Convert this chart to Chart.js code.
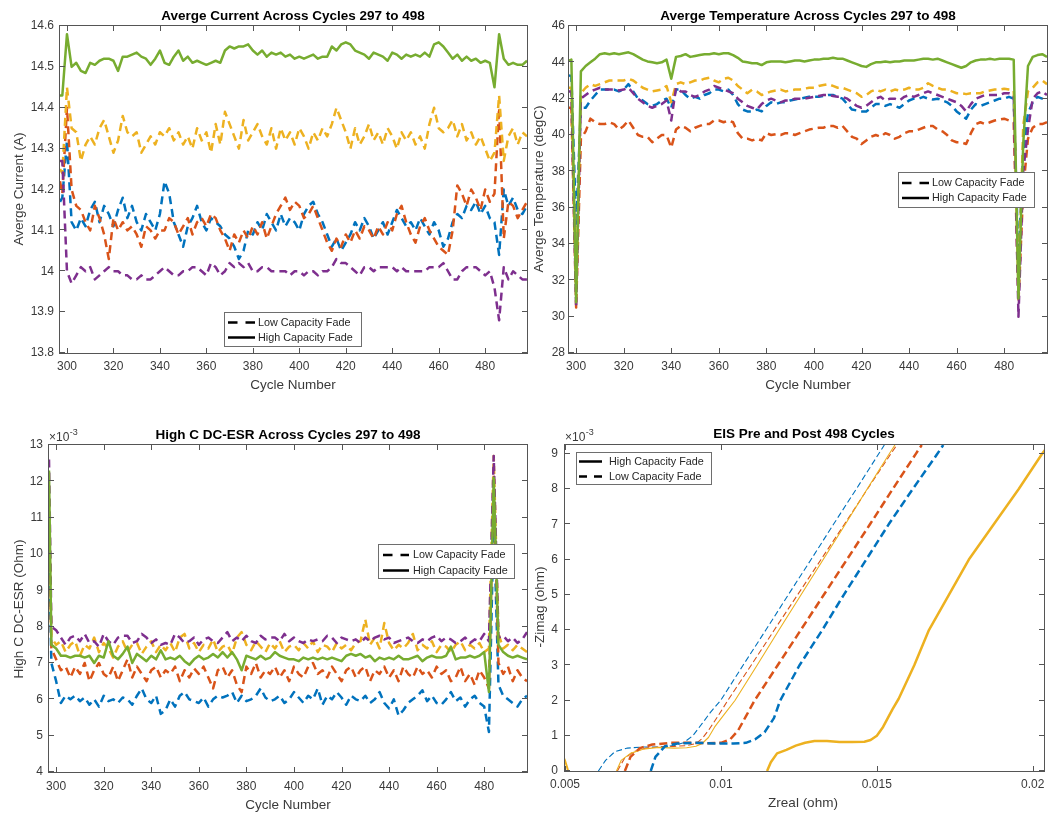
<!DOCTYPE html>
<html>
<head>
<meta charset="utf-8">
<title>Cycle summary</title>
<script src="https://cdn.jsdelivr.net/npm/chart.js@4.4.1/dist/chart.umd.min.js"></script>
<style>
html,body{margin:0;padding:0;background:#fff}
body{position:relative;width:1048px;height:814px;overflow:hidden}
canvas{position:absolute;display:block}
</style>
</head>
<body>
<canvas id="cCurrent"></canvas>
<canvas id="cTemp"></canvas>
<canvas id="cEsr"></canvas>
<canvas id="cEis"></canvas>
<script>
const FONT = '"Liberation Sans", Arial, Helvetica, sans-serif';
const COL = {blue:'#0072BD', orange:'#D95319', yellow:'#EDB120', purple:'#7E2F8E', green:'#77AC30'};

// ---- cycle axis ----
const cycles = [297,
  298,300,302,304,306,308,310,312,314,316,
  318,320,322,324,326,328,330,332,334,336,
  338,340,342,344,346,348,350,352,354,356,
  358,360,362,364,366,368,370,372,374,376,
  378,380,382,384,386,388,390,392,394,396,
  398,400,402,404,406,408,410,412,414,416,
  418,420,422,424,426,428,430,432,434,436,
  438,440,442,444,446,448,450,452,454,456,
  458,460,462,464,466,468,470,472,474,476,
  478,480,482,484,486,488,490,492,494,496,
  498];
const cycleTicks = [300,320,340,360,380,400,420,440,460,480];
const cycleTickLabels = ['300','320','340','360','380','400','420','440','460','480'];

// ---- average current (A) ----
const currentTicks = [13.8,13.9,14,14.1,14.2,14.3,14.4,14.5,14.6];
const currentTickLabels = ['13.8','13.9','14','14.1','14.2','14.3','14.4','14.5','14.6'];
const currentHighFade = [14.43,
  14.43,14.58,14.50,14.51,14.49,14.485,14.51,14.505,14.515,14.52,
  14.52,14.515,14.49,14.525,14.525,14.53,14.535,14.525,14.52,14.505,
  14.52,14.54,14.51,14.505,14.525,14.54,14.515,14.525,14.51,14.515,
  14.51,14.505,14.51,14.515,14.51,14.54,14.55,14.545,14.55,14.55,
  14.555,14.54,14.53,14.54,14.525,14.535,14.53,14.535,14.525,14.53,
  14.52,14.525,14.52,14.525,14.53,14.52,14.525,14.525,14.55,14.54,
  14.555,14.56,14.555,14.54,14.535,14.53,14.52,14.535,14.53,14.525,
  14.515,14.535,14.53,14.52,14.53,14.525,14.53,14.525,14.535,14.525,
  14.555,14.56,14.55,14.535,14.52,14.53,14.515,14.525,14.515,14.52,
  14.51,14.515,14.51,14.45,14.58,14.52,14.505,14.51,14.505,14.505,
  14.515];
const currentLowYellow = [14.25,
  14.24,14.45,14.35,14.34,14.27,14.31,14.33,14.31,14.35,14.37,
  14.33,14.29,14.32,14.38,14.34,14.33,14.34,14.29,14.31,14.33,
  14.31,14.34,14.33,14.35,14.32,14.34,14.31,14.33,14.30,14.35,
  14.32,14.34,14.29,14.36,14.31,14.39,14.36,14.33,14.30,14.37,
  14.32,14.34,14.36,14.33,14.31,14.35,14.30,14.35,14.32,14.34,
  14.31,14.35,14.33,14.30,14.34,14.32,14.35,14.33,14.36,14.40,
  14.37,14.34,14.30,14.35,14.31,14.33,14.36,14.32,14.34,14.31,
  14.35,14.33,14.30,14.34,14.32,14.34,14.31,14.33,14.30,14.36,
  14.40,14.35,14.34,14.35,14.37,14.33,14.36,14.32,14.34,14.31,
  14.33,14.30,14.27,14.29,14.43,14.27,14.33,14.35,14.31,14.34,
  14.33];
const currentLowOrange = [14.22,
  14.19,14.40,14.20,14.16,14.15,14.12,14.10,14.16,14.13,14.09,
  14.03,14.13,14.10,14.12,14.10,14.11,14.09,14.06,14.11,14.10,
  14.08,14.10,14.10,14.13,14.12,14.09,14.11,14.13,14.09,14.12,
  14.13,14.11,14.14,14.13,14.10,14.08,14.05,14.09,14.07,14.10,
  14.08,14.11,14.09,14.12,14.08,14.11,14.14,14.16,14.18,14.15,
  14.17,14.16,14.13,14.14,14.16,14.13,14.10,14.07,14.05,14.08,
  14.06,14.09,14.07,14.10,14.08,14.11,14.10,14.08,14.11,14.09,
  14.12,14.10,14.14,14.16,14.12,14.09,14.07,14.11,14.13,14.10,
  14.08,14.06,14.05,14.04,14.10,14.21,14.19,14.16,14.20,14.18,
  14.15,14.20,14.17,14.19,14.40,14.08,14.17,14.16,14.13,14.15,
  14.17];
const currentLowBlue = [14.17,
  14.18,14.32,14.12,14.10,14.13,14.11,14.15,14.17,14.12,14.16,
  14.14,14.11,14.15,14.18,14.13,14.16,14.12,14.10,14.14,14.12,
  14.10,14.14,14.22,14.19,14.12,14.09,14.06,14.11,14.13,14.16,
  14.12,14.10,14.13,14.12,14.11,14.09,14.08,14.06,14.03,14.05,
  14.10,14.09,14.12,14.10,14.14,14.12,14.10,14.14,14.11,14.13,
  14.12,14.10,14.14,14.16,14.17,14.14,14.12,14.09,14.06,14.08,
  14.05,14.07,14.09,14.12,14.10,14.13,14.11,14.08,14.10,14.12,
  14.09,14.12,14.15,14.13,14.11,14.12,14.10,14.13,14.11,14.09,
  14.12,14.10,14.06,14.08,14.12,14.14,14.13,14.16,14.15,14.17,
  14.14,14.16,14.13,14.12,14.04,14.20,14.16,14.18,14.15,14.14,
  14.16];
const currentLowPurple = [14.27,
  14.27,14.00,13.97,13.99,14.01,14.00,14.01,13.98,13.99,14.00,
  14.01,14.00,14.00,13.99,13.99,13.98,13.98,13.99,13.98,13.98,
  13.99,14.00,14.01,14.00,13.99,13.99,14.00,14.00,14.01,14.01,
  14.00,13.99,14.02,14.01,13.99,14.00,14.02,14.01,14.02,14.01,
  14.02,14.00,14.00,14.01,14.01,14.00,14.00,14.00,14.00,13.99,
  14.00,14.00,13.99,14.00,14.00,13.99,14.00,14.00,14.01,14.03,
  14.02,14.02,14.01,14.00,13.99,14.01,14.01,14.00,14.01,14.01,
  14.01,14.01,14.00,14.01,14.00,14.00,14.00,14.00,14.00,14.01,
  14.01,14.01,14.02,14.00,13.98,13.98,14.00,14.01,14.01,14.01,
  14.00,13.99,14.00,13.96,13.88,14.01,13.98,14.00,13.99,13.98,
  13.98];

// ---- average temperature (degC) ----
const tempTicks = [28,30,32,34,36,38,40,42,44,46];
const tempTickLabels = ['28','30','32','34','36','38','40','42','44','46'];
const tempHighFade = [44.1,
  44.15,30.8,43.5,43.8,44.0,44.2,44.45,44.5,44.45,44.5,
  44.45,44.5,44.55,44.45,44.3,44.15,44.05,44.0,43.95,44.0,
  44.15,43.1,44.3,44.35,44.45,44.3,44.35,44.4,44.45,44.45,
  44.5,44.45,44.5,44.5,44.4,44.25,44.05,44.0,43.95,43.95,
  43.85,44.0,44.05,44.05,44.05,44.0,44.05,44.1,44.1,44.05,
  44.1,44.15,44.15,44.2,44.2,44.25,44.2,44.2,44.1,44.0,
  43.9,43.8,43.75,43.9,44.0,44.0,44.05,44.0,44.05,44.05,
  44.1,44.1,44.1,44.15,44.2,44.2,44.15,44.2,44.1,44.0,
  43.9,43.8,43.7,43.8,44.0,44.1,44.15,44.15,44.2,44.15,
  44.2,44.2,44.2,44.15,31.0,39.5,43.8,44.3,44.4,44.45,
  44.3];
const tempLowYellow = [42.6,
  42.6,31.5,42.3,42.6,42.8,42.7,42.8,42.9,43.0,43.0,
  43.0,43.0,43.1,43.0,42.8,42.6,42.5,42.4,42.45,42.5,
  42.7,41.8,42.8,42.9,42.8,42.9,43.0,43.0,43.1,43.15,
  43.0,42.9,43.1,43.15,43.0,42.7,42.5,42.3,42.5,42.4,
  42.2,42.3,42.4,42.45,42.5,42.4,42.45,42.5,42.5,42.55,
  42.6,42.6,42.7,42.75,42.8,42.7,42.6,42.6,42.5,42.4,
  42.3,42.1,42.2,42.4,42.5,42.4,42.5,42.4,42.5,42.45,
  42.5,42.6,42.5,42.5,42.6,42.85,42.7,42.6,42.5,42.5,
  42.4,42.3,42.3,42.25,42.3,42.3,42.3,42.4,42.45,42.5,
  42.5,42.55,42.5,42.45,31.5,40.5,42.4,42.6,42.9,43.0,
  42.8];
const tempLowBlue = [43.3,
  43.2,35.0,41.5,41.5,41.9,42.2,42.5,42.5,42.5,42.5,
  42.4,42.5,42.8,42.4,42.0,41.9,41.7,41.6,41.7,41.9,
  42.0,41.5,42.5,42.5,42.2,42.0,42.1,42.0,42.2,42.3,
  42.5,42.5,42.4,42.5,42.2,41.7,41.4,41.3,41.3,41.4,
  41.3,41.6,41.8,41.7,41.8,41.8,41.9,41.95,42.0,42.05,
  42.1,42.1,42.1,42.15,42.2,42.2,42.1,42.0,41.7,41.4,
  41.35,41.3,41.3,41.5,41.7,41.7,41.6,41.7,41.6,41.5,
  41.7,41.9,42.0,42.0,42.1,42.0,41.95,42.0,41.9,41.8,
  41.6,41.3,41.1,40.9,41.4,41.7,41.6,41.7,41.8,41.9,
  42.0,42.0,42.1,42.0,33.0,39.0,41.2,41.8,42.1,42.0,
  41.9];
const tempLowPurple = [42.4,
  42.4,30.5,42.0,42.2,42.4,42.5,42.6,42.5,42.5,42.5,
  42.45,42.5,42.6,42.3,42.0,41.8,41.6,41.5,41.6,41.7,
  41.9,40.8,42.6,42.4,42.4,42.2,42.1,42.2,42.4,42.5,
  42.7,42.6,42.5,42.4,42.3,42.0,41.8,41.6,41.5,41.4,
  41.7,41.9,42.0,41.9,41.8,41.9,41.9,42.0,42.0,42.0,
  42.05,42.1,42.15,42.2,42.2,42.15,42.1,42.1,42.0,41.8,
  41.6,41.5,41.6,41.8,42.0,42.1,41.9,42.0,42.0,41.9,
  42.1,42.2,42.1,42.2,42.3,42.4,42.3,42.2,42.1,42.0,
  41.9,41.8,41.6,41.3,41.7,42.0,42.1,42.2,42.2,42.2,
  42.2,42.3,42.3,42.2,30.0,38.0,40.3,42.0,42.3,42.4,
  42.2];
const tempLowOrange = [41.5,
  41.5,30.5,39.8,40.2,40.9,40.7,40.6,40.6,40.7,40.6,
  40.3,40.5,40.8,40.4,40.0,39.9,39.9,39.6,39.8,40.0,
  40.0,39.3,40.3,40.5,40.4,40.2,40.4,40.5,40.6,40.6,
  40.8,40.8,40.7,40.8,40.7,40.1,39.8,39.8,39.7,39.8,
  39.7,40.1,40.0,40.05,40.0,40.1,40.1,40.0,40.1,40.2,
  40.3,40.35,40.4,40.4,40.5,40.5,40.4,40.5,40.2,39.9,
  39.8,39.5,39.7,39.9,40.0,39.9,40.1,40.0,39.8,39.9,
  40.1,40.2,40.2,40.3,40.4,40.5,40.5,40.3,40.2,40.0,
  39.7,39.6,39.6,39.5,40.1,40.6,40.7,40.6,40.7,40.8,
  40.85,40.9,40.8,40.7,30.8,37.0,39.8,40.4,40.6,40.6,
  40.7];

// ---- high C DC-ESR (x 1e-3 Ohm) ----
const esrTicks = [4,5,6,7,8,9,10,11,12,13];
const esrTickLabels = ['4','5','6','7','8','9','10','11','12','13'];
const esrHighFade = [12.3,
  7.5,7.4,7.2,7.2,7.15,7.2,7.2,7.15,7.2,7.0,
  7.2,7.15,7.6,7.2,7.1,7.25,7.45,7.0,7.25,7.15,
  7.05,7.2,7.1,7.35,7.1,7.15,7.1,7.2,7.05,6.95,
  7.1,7.2,7.1,7.15,7.25,7.15,7.3,7.15,7.3,7.1,
  6.8,7.2,7.15,7.1,7.2,7.1,7.15,7.3,7.2,7.15,
  7.1,7.1,7.05,7.15,7.1,7.15,7.1,7.15,7.1,7.15,
  7.1,7.05,7.2,7.25,7.2,7.25,7.15,7.2,7.05,7.15,
  7.1,7.15,7.1,7.2,7.1,7.1,7.15,7.2,7.05,7.15,
  7.2,7.15,7.15,7.2,7.45,7.1,7.15,7.15,7.2,7.15,
  7.2,7.3,6.2,12.1,7.5,7.3,7.2,7.15,7.2,7.15,
  7.1];
const esrLowPurple = [12.6,
  8.0,7.9,7.7,7.5,7.7,7.75,7.6,7.8,7.55,7.6,
  7.45,7.8,7.6,7.5,7.7,7.75,7.75,7.55,7.6,7.8,
  7.7,7.55,7.65,7.5,7.55,7.5,7.8,7.7,7.55,7.6,
  7.7,7.5,7.65,7.7,7.6,7.55,7.7,7.85,7.6,7.7,
  7.6,7.75,7.6,7.55,7.75,7.65,7.7,7.7,7.6,7.8,
  7.6,7.7,7.6,7.55,7.65,7.6,7.65,7.6,7.75,7.7,
  7.55,7.7,7.65,7.6,7.65,7.55,7.7,7.6,7.7,7.75,
  7.65,7.7,7.55,7.6,7.65,7.7,7.6,7.55,7.65,7.6,
  7.7,7.75,7.6,7.7,7.65,7.55,7.6,7.7,7.55,7.65,
  7.6,7.8,7.6,12.7,7.7,7.75,7.6,7.7,7.55,7.65,
  7.85];
const esrLowYellow = [11.5,
  7.7,7.5,7.6,7.3,7.5,7.6,7.2,7.5,7.4,7.7,
  7.3,7.55,7.4,7.15,7.45,7.6,7.3,7.5,7.55,7.25,
  7.45,7.6,7.3,7.5,7.35,7.55,7.3,7.7,7.8,7.4,
  7.55,7.3,7.5,7.4,7.65,7.3,7.45,7.5,7.25,7.7,
  7.85,7.5,7.35,7.6,7.45,7.3,7.55,7.4,7.6,7.3,
  7.45,7.5,7.35,7.55,7.4,7.6,7.3,7.5,7.45,7.3,
  7.55,7.4,7.5,7.35,7.55,7.6,8.2,7.5,7.7,7.4,
  8.1,7.55,7.35,7.5,7.4,7.55,7.8,7.35,7.5,7.4,
  7.6,7.3,7.5,7.45,7.3,7.5,7.6,7.35,7.5,7.4,
  7.55,7.3,7.4,12.7,7.8,7.4,7.5,7.35,7.5,7.4,
  7.3];
const esrLowOrange = [11.2,
  7.4,7.1,6.8,6.9,6.6,6.9,6.7,7.0,6.5,6.8,
  7.0,6.7,6.6,6.9,6.5,6.8,7.1,6.6,6.9,6.7,
  6.5,6.8,6.9,6.6,6.8,6.7,6.9,6.5,6.8,6.6,
  6.85,6.7,6.9,6.6,6.3,6.8,6.9,6.6,6.8,6.4,
  6.2,6.9,6.7,7.0,6.6,6.8,6.7,6.9,6.6,6.8,
  6.5,6.9,6.7,6.6,6.9,7.0,6.7,6.8,6.6,6.9,
  6.7,6.5,6.8,6.9,6.6,6.8,6.9,6.5,6.8,6.7,
  6.9,6.6,6.8,6.5,6.9,6.7,6.6,6.9,6.7,6.8,
  6.6,6.9,6.7,6.8,6.5,6.6,6.9,6.5,6.7,6.4,
  6.8,6.6,6.3,12.2,7.0,6.7,6.9,6.5,6.8,6.6,
  6.5];
const esrLowBlue = [10.2,
  7.0,6.5,5.9,6.1,6.0,6.1,5.95,6.05,5.85,6.0,
  5.8,6.1,5.95,6.0,5.9,6.05,6.0,5.85,6.1,6.3,
  6.0,5.9,6.1,5.6,5.7,6.0,5.8,6.1,6.2,6.0,
  5.95,5.9,6.05,5.8,6.0,6.1,6.05,6.1,6.2,5.9,
  6.1,5.95,6.0,6.1,6.3,6.05,5.95,6.0,6.1,5.9,
  6.0,6.2,6.05,5.9,6.1,6.0,6.3,5.85,6.1,6.0,
  6.2,6.05,5.85,6.1,6.0,5.95,6.1,5.9,6.0,6.2,
  5.9,5.75,6.0,5.55,5.7,5.9,6.0,6.1,6.25,5.95,
  6.1,5.9,5.85,6.0,6.2,5.95,6.05,5.8,6.0,6.1,
  5.9,5.8,5.1,11.0,6.4,6.1,6.0,5.9,5.8,6.0,
  6.1];

// ---- EIS Nyquist: Zreal (ohm) and -Zimag (x 1e-3 ohm) ----
const zrealTicks = [0.005,0.01,0.015,0.02];
const zrealTickLabels = ['0.005','0.01','0.015','0.02'];
const zimagTicks = [0,1,2,3,4,5,6,7,8,9];
const zimagTickLabels = ['0','1','2','3','4','5','6','7','8','9'];

const eisPreLowBlueX = [0.00607,0.0063,0.0066,0.0070,0.0075,0.0080,0.0085,0.0088,0.0091,0.0094,0.00965,0.00999,0.01071,0.01144,0.01216,0.01289,0.01361,0.01434,0.01506,0.01524];
const eisPreLowBlueY = [0,0.3,0.55,0.65,0.68,0.68,0.72,0.8,1.0,1.35,1.65,2,3,4,5,6,7,8,9,9.25];
const eisPreLowOrangeX = [0.00668,0.0069,0.0072,0.0076,0.0080,0.0085,0.0089,0.0092,0.0094,0.0096,0.0099,0.01022,0.01097,0.01171,0.01246,0.01321,0.01396,0.0147,0.01545,0.01564];
const eisPreLowOrangeY = [0,0.35,0.55,0.65,0.68,0.7,0.72,0.78,0.92,1.15,1.55,2,3,4,5,6,7,8,9,9.25];
const eisPreHighX = [0.00665,0.0068,0.0071,0.0075,0.0080,0.0085,0.0089,0.0092,0.0094,0.0096,0.0098,0.0101,0.01045,0.01116,0.01186,0.01257,0.01328,0.01399,0.01469,0.0154,0.01558];
const eisPreHighY = [0,0.3,0.5,0.62,0.67,0.65,0.66,0.7,0.78,0.95,1.25,1.6,2,3,4,5,6,7,8,9,9.25];
const eisPostLowBlueX = [0.00775,0.0079,0.0082,0.0086,0.0092,0.0098,0.0104,0.0108,0.0111,0.0114,0.0117,0.0119,0.01252,0.01325,0.01394,0.01466,0.01538,0.01615,0.01694,0.01713];
const eisPostLowBlueY = [0,0.4,0.7,0.78,0.8,0.78,0.78,0.8,0.9,1.1,1.5,2,3,4,5,6,7,8,9,9.25];
const eisPostLowOrangeX = [0.00692,0.0071,0.0074,0.0078,0.0084,0.0090,0.0096,0.0100,0.0103,0.01055,0.0108,0.01108,0.01182,0.01256,0.0133,0.01404,0.01478,0.01551,0.01625,0.01644];
const eisPostLowOrangeY = [0,0.4,0.65,0.75,0.8,0.8,0.79,0.8,0.9,1.15,1.55,2,3,4,5,6,7,8,9,9.25];
const eisPostHighX = [0.01148,0.0116,0.0118,0.0121,0.0124,0.0127,0.0130,0.0134,0.0138,0.0142,0.0146,0.0148,0.0150,0.0152,0.01535,0.0155,0.0157,0.0162,0.01667,0.01731,0.01795,0.01875,0.01955,0.0203,0.0204];
const eisPostHighY = [0,0.25,0.5,0.6,0.72,0.8,0.85,0.85,0.82,0.82,0.83,0.88,1.0,1.25,1.5,1.75,2.05,3,4,5,6,7,8,9,9.12];
const eisEdgeX = [0.00485,0.0050,0.00507,0.0051];
const eisEdgeY = [0.6,0.3,0.1,0];

// ---- helpers ----
function pts(xs, ys) { return xs.map((x, i) => ({x: x, y: ys[i]})); }

function series(xs, ys, color, width, dash, order) {
  return {
    data: pts(xs, ys), borderColor: color, backgroundColor: color,
    borderWidth: width, borderDash: dash, pointRadius: 0, fill: false,
    tension: 0, order: order, clip: 0, borderJoinStyle: 'round', borderCapStyle: 'butt'
  };
}

function zeroPad(s) { s.paddingLeft = 0; s.paddingRight = 0; s.paddingTop = 0; s.paddingBottom = 0; }

function axis(min, max, ticks, labels, pad, fitFn) {
  return {
    type: 'linear', min: min, max: max,
    afterBuildTicks: s => { s.ticks = ticks.map(v => ({value: v})); },
    ticks: {
      callback: (v, i) => labels[i], padding: pad, color: '#3a3a3a',
      font: {family: FONT, size: 12}, maxRotation: 0, minRotation: 0, autoSkip: false
    },
    grid: {display: false, drawTicks: false},
    border: {display: false},
    afterFit: fitFn
  };
}

// frame with inward ticks, titles, axis labels, legend and exponent, in page coordinates
const decor = {
  id: 'decor',
  afterDraw(chart, args, o) {
    const ctx = chart.ctx, a = chart.chartArea;
    const xs = chart.scales.x, ys = chart.scales.y;
    const ox = o.origin[0], oy = o.origin[1];
    ctx.save();
    ctx.lineWidth = 1;
    ctx.strokeStyle = '#555';
    ctx.setLineDash([]);
    ctx.strokeRect(a.left - 0.5, a.top - 0.5, a.right - a.left + 1, a.bottom - a.top + 1);
    ctx.beginPath();
    o.xTicks.forEach(v => {
      const p = Math.round(xs.getPixelForValue(v)) + 0.5;
      ctx.moveTo(p, a.bottom); ctx.lineTo(p, a.bottom - 5);
      ctx.moveTo(p, a.top); ctx.lineTo(p, a.top + 5);
    });
    o.yTicks.forEach(v => {
      const p = Math.round(ys.getPixelForValue(v)) - 0.5;
      ctx.moveTo(a.left, p); ctx.lineTo(a.left + 5, p);
      ctx.moveTo(a.right, p); ctx.lineTo(a.right - 5, p);
    });
    ctx.stroke();

    ctx.textAlign = 'center';
    ctx.textBaseline = 'middle';
    ctx.fillStyle = '#000';
    ctx.font = 'bold 13.5px ' + FONT;
    ctx.fillText(o.title[0], o.title[1] - ox, o.title[2] - oy);

    ctx.fillStyle = '#3a3a3a';
    ctx.font = '13.5px ' + FONT;
    ctx.fillText(o.xLabel[0], o.xLabel[1] - ox, o.xLabel[2] - oy);
    ctx.save();
    ctx.translate(o.yLabel[1] - ox, o.yLabel[2] - oy);
    ctx.rotate(-Math.PI / 2);
    ctx.fillText(o.yLabel[0], 0, 0);
    ctx.restore();

    if (o.exponent) {
      ctx.textAlign = 'left';
      ctx.font = '12px ' + FONT;
      const ex = o.exponent[0] - ox, ey = o.exponent[1] - oy;
      ctx.fillText('\u00d710', ex, ey);
      const w = ctx.measureText('\u00d710').width;
      ctx.font = '9px ' + FONT;
      ctx.fillText('-3', ex + w + 0.5, ey - 5);
    }

    const L = o.legend;
    ctx.fillStyle = '#fff';
    ctx.fillRect(L.box[0] - ox, L.box[1] - oy, L.box[2], L.box[3]);
    ctx.strokeStyle = '#6e6e6e';
    ctx.lineWidth = 1;
    ctx.strokeRect(L.box[0] - ox + 0.5, L.box[1] - oy + 0.5, L.box[2], L.box[3]);
    L.rows.forEach(r => {
      ctx.beginPath();
      ctx.strokeStyle = '#000';
      ctx.lineWidth = L.width;
      ctx.lineCap = 'butt';
      ctx.setLineDash(r[2] ? L.dash : []);
      ctx.moveTo(L.sample[0] - ox, r[1] - oy);
      ctx.lineTo(L.sample[1] - ox, r[1] - oy);
      ctx.stroke();
      ctx.setLineDash([]);
      ctx.fillStyle = '#262626';
      ctx.font = '10.8px ' + FONT;
      ctx.textAlign = 'left';
      ctx.fillText(r[0], L.textX - ox, r[1] - oy + 0.5);
    });
    ctx.restore();
  }
};

// page boxes of the canvases and chart areas
function makePanel(id, box, area, scales, datasets, deco) {
  const cv = document.getElementById(id);
  cv.width = box[2]; cv.height = box[3];
  cv.style.left = box[0] + 'px'; cv.style.top = box[1] + 'px';
  cv.style.width = box[2] + 'px'; cv.style.height = box[3] + 'px';
  const L = area[0] - box[0], T = area[1] - box[1], R = area[2] - box[0], B = area[3] - box[1];
  const xFit = s => { s.height = box[3] - B; zeroPad(s); };
  const yFit = s => { s.width = L; zeroPad(s); };
  deco.origin = [box[0], box[1]];
  return new Chart(cv, {
    type: 'line',
    data: {datasets: datasets},
    options: {
      responsive: false, animation: false, devicePixelRatio: 1, events: [],
      layout: {padding: {left: 0, top: T, right: box[2] - R, bottom: 0}},
      plugins: {legend: {display: false}, tooltip: {enabled: false}, decor: deco},
      scales: {
        x: axis(scales.x[0], scales.x[1], scales.x[2], scales.x[3], scales.x[4], xFit),
        y: axis(scales.y[0], scales.y[1], scales.y[2], scales.y[3], scales.y[4], yFit)
      }
    },
    plugins: [decor]
  });
}

const DASH = [8, 5];
function cycleSets(blue, orange, yellow, purple, green) {
  return [
    series(cycles, green, COL.green, 2.5, [], 0),
    series(cycles, purple, COL.purple, 2.5, DASH, 1),
    series(cycles, yellow, COL.yellow, 2.5, DASH, 2),
    series(cycles, orange, COL.orange, 2.5, DASH, 3),
    series(cycles, blue, COL.blue, 2.5, DASH, 4)
  ];
}

const LOW = 'Low Capacity Fade', HIGH = 'High Capacity Fade';

makePanel('cCurrent', [0, 0, 528, 405], [60, 26, 527, 353],
  {x: [297, 498, cycleTicks, cycleTickLabels, 6], y: [13.8, 14.6, currentTicks, currentTickLabels, 6]},
  cycleSets(currentLowBlue, currentLowOrange, currentLowYellow, currentLowPurple, currentHighFade),
  {
    xTicks: cycleTicks, yTicks: currentTicks,
    title: ['Averge Current Across Cycles 297 to 498', 293, 16],
    xLabel: ['Cycle Number', 293, 385],
    yLabel: ['Averge Current (A)', 19, 189],
    legend: {box: [224, 312, 137, 34], sample: [228, 255], textX: 258, width: 2.5, dash: [9.5, 8],
      rows: [[LOW, 322.5, true], [HIGH, 337.5, false]]}
  });

makePanel('cTemp', [528, 0, 520, 405], [569, 26, 1047, 353],
  {x: [297, 498, cycleTicks, cycleTickLabels, 6], y: [28, 46, tempTicks, tempTickLabels, 4]},
  cycleSets(tempLowBlue, tempLowOrange, tempLowYellow, tempLowPurple, tempHighFade),
  {
    xTicks: cycleTicks, yTicks: tempTicks,
    title: ['Averge Temperature Across Cycles 297 to 498', 808, 16],
    xLabel: ['Cycle Number', 808, 385],
    yLabel: ['Averge Temperature (degC)', 539, 189],
    legend: {box: [898, 172, 136, 35], sample: [902, 929], textX: 932, width: 2.5, dash: [9.5, 8],
      rows: [[LOW, 183, true], [HIGH, 198, false]]}
  });

makePanel('cEsr', [0, 405, 528, 409], [49, 445, 527, 772],
  {x: [297, 498, cycleTicks, cycleTickLabels, 7.5], y: [4, 13, esrTicks, esrTickLabels, 6]},
  cycleSets(esrLowBlue, esrLowOrange, esrLowYellow, esrLowPurple, esrHighFade),
  {
    xTicks: cycleTicks, yTicks: esrTicks,
    title: ['High C DC-ESR Across Cycles 297 to 498', 288, 435.5],
    xLabel: ['Cycle Number', 288, 805],
    yLabel: ['High C DC-ESR (Ohm)', 19, 609],
    exponent: [49, 438],
    legend: {box: [378, 544, 136, 34], sample: [383, 409], textX: 413, width: 2.5, dash: [9.5, 8],
      rows: [[LOW, 555, true], [HIGH, 570.5, false]]}
  });

makePanel('cEis', [528, 405, 520, 409], [565, 445, 1044, 771],
  {x: [0.005, 0.02036, zrealTicks, zrealTickLabels, 6], y: [0, 9.25, zimagTicks, zimagTickLabels, 7]},
  [
    series(eisPostHighX, eisPostHighY, COL.yellow, 2.5, [], 0),
    series(eisEdgeX, eisEdgeY, COL.yellow, 2, [], 0),
    series(eisPostLowBlueX, eisPostLowBlueY, COL.blue, 2.5, [8, 4], 1),
    series(eisPostLowOrangeX, eisPostLowOrangeY, COL.orange, 2.5, [8, 4], 2),
    series(eisPreHighX, eisPreHighY, COL.yellow, 1.1, [], 3),
    series(eisPreLowOrangeX, eisPreLowOrangeY, COL.orange, 1.1, [6, 3], 4),
    series(eisPreLowBlueX, eisPreLowBlueY, COL.blue, 1.1, [6, 3], 5)
  ],
  {
    xTicks: zrealTicks, yTicks: zimagTicks,
    title: ['EIS Pre and Post 498 Cycles', 804, 434],
    xLabel: ['Zreal (ohm)', 803, 803],
    yLabel: ['-Zimag (ohm)', 540, 607],
    exponent: [565, 438],
    legend: {box: [576, 452, 135, 32], sample: [579, 602], textX: 609, width: 2.5, dash: [8, 7],
      rows: [[HIGH, 461.5, false], [LOW, 476.5, true]]}
  });
</script>
</body>
</html>
